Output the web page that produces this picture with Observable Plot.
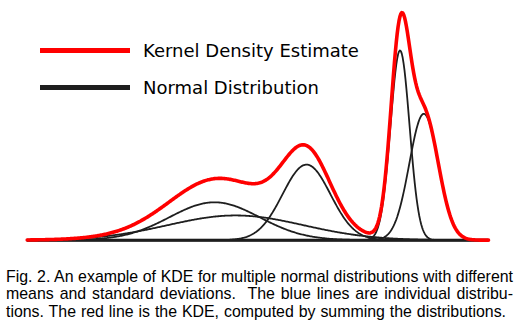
<!DOCTYPE html>
<html><head><meta charset="utf-8">
<script src="https://cdn.jsdelivr.net/npm/d3@7"></script>
<script src="https://cdn.jsdelivr.net/npm/@observablehq/plot@0.6"></script>
<style>
html,body{margin:0;padding:0;background:#fff;}
#wrap{position:relative;width:528px;height:331px;overflow:hidden;background:#fff;}
#chart{position:absolute;left:0;top:0;}
.sw{position:absolute;left:40px;width:90px;height:5px;}
.lg{position:absolute;left:143px;font-family:"DejaVu Sans",sans-serif;font-size:18px;line-height:21px;color:#000;white-space:nowrap;}
.cap{position:absolute;left:6px;width:507px;font-family:"Liberation Sans",Arial,sans-serif;font-size:15.9px;line-height:17.4px;color:#000;text-align:justify;text-align-last:justify;}
</style></head><body><div id="wrap"><div id="chart"></div></div>
<script>
// Normal components (x in 0..10, peak height as share of the KDE maximum)
const componentNames = ["N1", "N2", "N3", "N4", "N5"];
const means = [4.06, 4.516, 6.055, 8.082, 8.598];
const sds = [0.976, 1.474, 0.52, 0.206, 0.314];
const peaks = [0.167, 0.109, 0.333, 0.836, 0.557];
const xDomain = [0, 10];
const legendLabels = ["Kernel Density Estimate", "Normal Distribution"];
const legendColors = ["#ff0000", "#1e1e1e"];
const captionLines = [
  "Fig. 2. An example of KDE for multiple normal distributions with different",
  "means and standard deviations.\u00a0 The blue lines are individual distribu-",
  "tions. The red line is the KDE, computed by summing the distributions."
];

const grid = d3.range(xDomain[0], xDomain[1] + 1e-9, 0.02);
const comps = [];
const kde = grid.map(x => ({x, y: 0}));
componentNames.forEach((name, i) => {
  grid.forEach((x, j) => {
    const y = peaks[i] * Math.exp(-((x - means[i]) ** 2) / (2 * sds[i] ** 2));
    comps.push({comp: name, x, y});
    kde[j].y += y;
  });
});

const plot = Plot.plot({
  width: 528, height: 250,
  marginLeft: 26.7, marginRight: 40, marginTop: 12.7, marginBottom: 10.3,
  x: {domain: xDomain, axis: null},
  y: {domain: [0, 1], axis: null},
  style: {background: "white", overflow: "visible"},
  marks: [
    Plot.ruleY([0], {stroke: "#000", strokeWidth: 3}),
    Plot.line(comps, {x: "x", y: "y", z: "comp", stroke: legendColors[1], strokeWidth: 1.8}),
    Plot.line(kde, {x: "x", y: "y", stroke: legendColors[0], strokeWidth: 3.6})
  ]
});
document.getElementById("chart").appendChild(plot);

const wrap = document.getElementById("wrap");
const swTops = [48.3, 85.3], lgTops = [40, 77.3];
legendLabels.forEach((t, i) => {
  const s = document.createElement("div");
  s.className = "sw"; s.style.top = swTops[i] + "px"; s.style.background = legendColors[i];
  wrap.appendChild(s);
  const l = document.createElement("div");
  l.className = "lg"; l.style.top = lgTops[i] + "px"; l.textContent = t;
  wrap.appendChild(l);
});
const capTops = [267.8, 285.2, 302.6];
const capWidths = [507, 507, 500];
captionLines.forEach((t, i) => {
  const c = document.createElement("div");
  c.className = "cap";
  c.style.top = capTops[i] + "px";
  c.style.width = capWidths[i] + "px";
  c.textContent = t;
  wrap.appendChild(c);
});
</script></body></html>
